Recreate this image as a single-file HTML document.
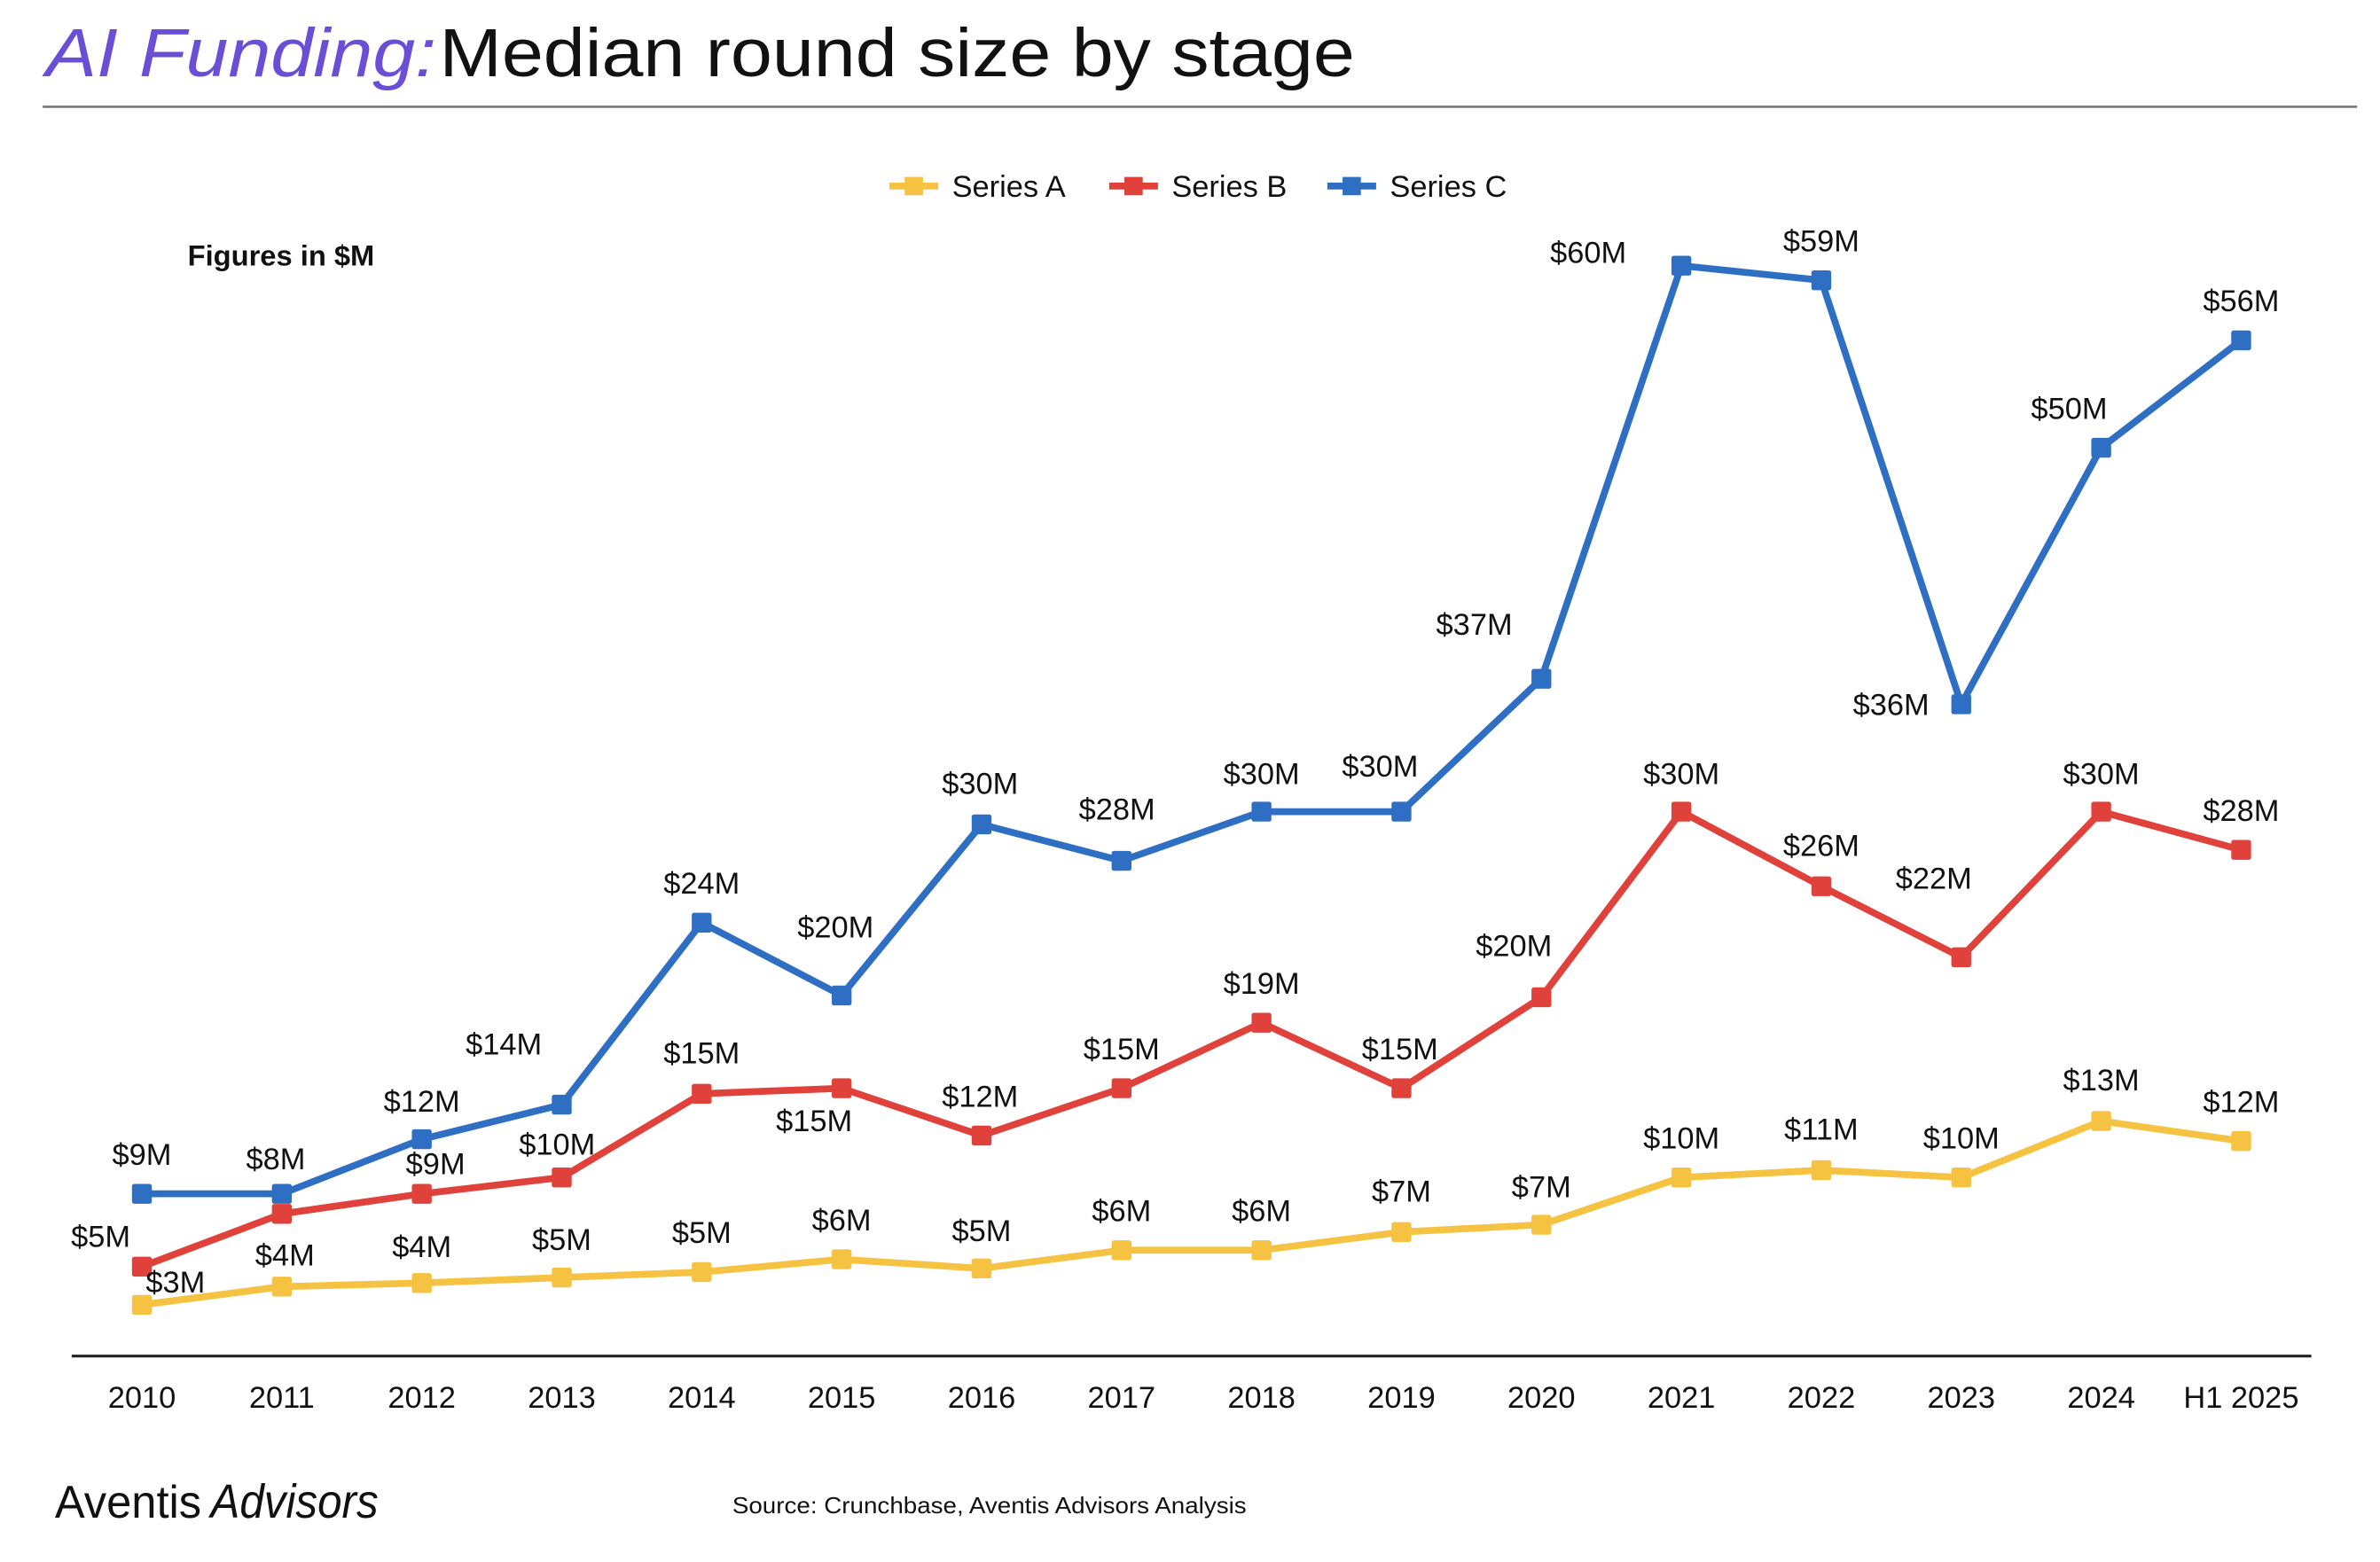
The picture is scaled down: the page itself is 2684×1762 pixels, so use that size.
<!DOCTYPE html>
<html><head><meta charset="utf-8"><style>
html,body{margin:0;padding:0;background:#fff;}
svg{display:block;}
text{font-family:"Liberation Sans",Arial,sans-serif;}
</style></head><body>
<svg id="chart" width="2684" height="1762" viewBox="0 0 1560 1024" preserveAspectRatio="none" xmlns="http://www.w3.org/2000/svg">
  <g>
    <text x="30" y="50" font-size="45" font-style="italic" fill="#6a4fd6" textLength="256" lengthAdjust="spacingAndGlyphs">AI Funding:</text>
    <text x="288" y="50" font-size="45" fill="#111" textLength="600" lengthAdjust="spacingAndGlyphs">Median round size by stage</text>
  </g>
  <line x1="28" y1="70" x2="1545" y2="70" stroke="#777" stroke-width="1.5"/>
  <text x="123" y="174" font-size="19" font-weight="bold" fill="#111">Figures in $M</text>
  <g id="legend"></g>
  <line x1="47" y1="889" x2="1515" y2="889" stroke="#222" stroke-width="1.8"/>
  <g id="xlabels"></g>
  <g id="series"></g>
  <text x="36" y="995" font-size="30" fill="#111" font-family="Liberation Sans, sans-serif" textLength="96" lengthAdjust="spacingAndGlyphs">Aventis</text>
  <text x="138" y="995" font-size="31" font-style="italic" fill="#111" font-family="Liberation Serif, serif" textLength="110" lengthAdjust="spacingAndGlyphs">Advisors</text>
  <text x="480" y="992" font-size="15" fill="#111" textLength="337" lengthAdjust="spacingAndGlyphs">Source: Crunchbase, Aventis Advisors Analysis</text>
</svg>
<script>
const categories = ["2010","2011","2012","2013","2014","2015","2016","2017","2018","2019","2020","2021","2022","2023","2024","H1 2025"];
const seriesNames = ["Series A","Series B","Series C"];
const seriesA = [2.9,3.9,4.1,4.4,4.7,5.4,4.9,5.9,5.9,6.9,7.3,9.9,10.3,9.9,13,11.9];
const seriesB = [5,7.9,9,9.9,14.5,14.8,12.2,14.8,18.4,14.8,19.8,30,25.9,22,30,27.9];
const seriesC = [9,9,12,13.9,23.9,19.9,29.3,27.3,30,30,37.3,60,59.2,35.9,50,55.9];
const labelsA = ["$3M","$4M","$4M","$5M","$5M","$6M","$5M","$6M","$6M","$7M","$7M","$10M","$11M","$10M","$13M","$12M"];
const labelsB = ["$5M","","$9M","$10M","$15M","$15M","$12M","$15M","$19M","$15M","$20M","$30M","$26M","$22M","$30M","$28M"];
const labelsC = ["$9M","$8M","$12M","$14M","$24M","$20M","$30M","$28M","$30M","$30M","$37M","$60M","$59M","$36M","$50M","$56M"];

// layout (label offsets relative to each point)
const offA = [[22,-15],[2,-21],[0,-24],[0,-25],[0,-26],[0,-26],[0,-25],[0,-26],[0,-26],[0,-27],[0,-25],[0,-26],[0,-27],[0,-26],[0,-27],[0,-26]];
const offB = [[-27,-20],[0,-25],[9,-20],[-3,-22],[0,-27],[-18,21],[-1,-26],[0,-26],[0,-26],[-1,-26],[-18,-34],[0,-25],[0,-27],[-18,-52],[0,-25],[0,-26]];
const offC = [[0,-26],[-4,-23],[0,-25],[-38,-40],[0,-26],[-4,-45],[-1,-27],[-3,-34],[0,-25],[-14,-30],[-44,-36],[-61,-9],[0,-26],[-46,0],[-21,-26],[0,-26]];
const colors = ["#F5C242","#E0413A","#2E6FC4"];

const NS = "http://www.w3.org/2000/svg";
const X0 = 93, X1 = 1469, Y0 = 890, K = 11.93;
function xs(i){ return X0 + i*(X1-X0)/(categories.length-1); }
function ys(v){ return Y0 - v*K; }
function mk(tag, attrs, parent){ const e=document.createElementNS(NS,tag); for(const k in attrs) e.setAttribute(k,attrs[k]); parent.appendChild(e); return e; }

const xl = document.getElementById('xlabels');
categories.forEach((c,i)=>{
  const t = mk('text',{x:xs(i),y:923,'font-size':20,'text-anchor':'middle',fill:'#111'},xl);
  
  
  t.textContent = c;
});

const lg = document.getElementById('legend');
const legX = [583,727,870];
seriesNames.forEach((n,s)=>{
  const g = mk('g',{},lg);
  
  
  mk('line',{x1:legX[s],y1:122,x2:legX[s]+32,y2:122,stroke:colors[s],'stroke-width':4.5},g);
  mk('rect',{x:legX[s]+10,y:116,width:12,height:12,fill:colors[s]},g);
  const t = mk('text',{x:legX[s]+41,y:129,'font-size':20,fill:'#111'},g);
  t.textContent = n;
});

const sg = document.getElementById('series');
const allData = [seriesA, seriesB, seriesC];
const allLabels = [labelsA, labelsB, labelsC];
const allOff = [offA, offB, offC];
const names = ['series-a','series-b','series-c'];
[2,1,0].forEach(s=>{
  const g = mk('g',{},sg);
  
  
  const d = allData[s];
  const pts = d.map((v,i)=>xs(i).toFixed(2)+','+ys(v).toFixed(2)).join(' ');
  const pl = mk('polyline',{points:pts,fill:'none',stroke:colors[s],'stroke-width':4.5,'stroke-linejoin':'round'},g);
  
  
  d.forEach((v,i)=>{
    const r = mk('rect',{x:xs(i)-6.5,y:ys(v)-6.5,width:13,height:13,rx:1.5,fill:colors[s]},g);
    
    
  });
});
[2,1,0].forEach(s=>{
  const g = mk('g',{},sg);
  
  
  allData[s].forEach((v,i)=>{
    const lab = allLabels[s][i];
    if(!lab) return;
    const o = allOff[s][i];
    const t = mk('text',{x:xs(i)+o[0],y:ys(v)+o[1]+7,'font-size':20,'text-anchor':'middle',fill:'#111'},g);
    
    
    t.textContent = lab;
  });
});
</script>
</body></html>
